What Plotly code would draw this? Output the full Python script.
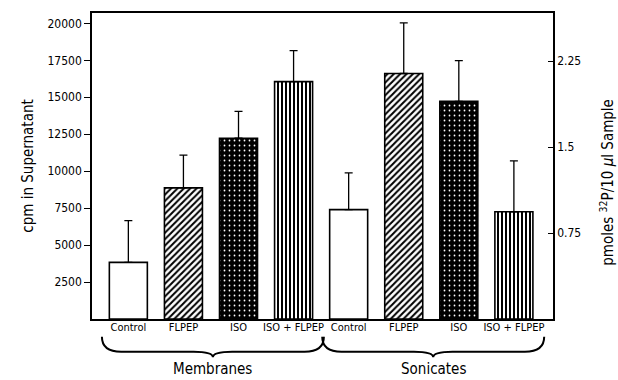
import numpy as np
import plotly.graph_objects as go

# ---- data ----
treatments = ["Control", "FLPEP", "ISO", "ISO + FLPEP"]
groups = ["Membranes", "Sonicates"]
membranes_cpm = [3830, 8870, 12230, 16060]          # cpm in supernatant
membranes_err = [2820, 2220, 1820, 2090]
sonicates_pmol = [0.954, 2.142, 1.899, 0.936]       # pmoles 32P / 10 ul sample
sonicates_err = [0.321, 0.442, 0.355, 0.443]
left_ticks = [2500, 5000, 7500, 10000, 12500, 15000, 17500, 20000]
right_ticks = [0.75, 1.5, 2.25]
right_ticktext = ["0.75", "1.5", "2.25"]

FONT = "DejaVu Sans Condensed, Liberation Sans Narrow, Arial Narrow, sans-serif"

# pattern style per treatment
styles = {
    "Control":     dict(shape="",  fg="black", bg="white", size=6, sol=0.3),
    "FLPEP":       dict(shape="/", fg="black", bg="white", size=4.5, sol=0.45),
    "ISO":         dict(shape=".", fg="white", bg="black", size=5, sol=0.1),
    "ISO + FLPEP": dict(shape="|", fg="black", bg="white", size=4, sol=0.5),
}

def pattern(names):
    return dict(
        shape=[styles[n]["shape"] for n in names],
        fgcolor=[styles[n]["fg"] for n in names],
        bgcolor=[styles[n]["bg"] for n in names],
        size=[styles[n]["size"] for n in names],
        solidity=[styles[n]["sol"] for n in names],
        fillmode="replace",
    )

n = len(treatments)
x_mem = np.arange(n)
x_son = np.arange(n) + n

fig = go.Figure()
fig.add_trace(go.Bar(
    x=x_mem, y=membranes_cpm, width=0.69, yaxis="y",
    marker=dict(color="white", line=dict(color="black", width=1.6),
                pattern=pattern(treatments)),
    error_y=dict(type="data", array=membranes_err, arrayminus=[0] * n,
                 symmetric=False, color="black", thickness=1.3, width=4),
    showlegend=False, name="Membranes",
))
fig.add_trace(go.Bar(
    x=x_son, y=sonicates_pmol, width=0.69, yaxis="y2",
    marker=dict(color="white", line=dict(color="black", width=1.6),
                pattern=pattern(treatments)),
    error_y=dict(type="data", array=sonicates_err, arrayminus=[0] * n,
                 symmetric=False, color="black", thickness=1.3, width=4),
    showlegend=False, name="Sonicates",
))

fig.update_layout(
    width=618, height=380,
    margin=dict(l=92, r=65, t=11, b=61),
    plot_bgcolor="white", paper_bgcolor="white",
    barmode="overlay",
    font=dict(family=FONT, color="black", size=12),
    xaxis=dict(
        range=[-0.66, 7.71],
        tickvals=list(x_mem) + list(x_son),
        ticktext=treatments * 2,
        ticks="", showline=True, linecolor="black", linewidth=1.5,
        mirror=True, showgrid=False, zeroline=False,
        ticklabelstandoff=-3,
        tickfont=dict(size=11, family=FONT),
    ),
    yaxis=dict(
        range=[0, 20700], tickvals=left_ticks,
        ticktext=[str(v) for v in left_ticks],
        ticks="outside", ticklen=6, tickcolor="black", tickwidth=1.2,
        showline=True, linecolor="black", linewidth=1.5,
        showgrid=False, zeroline=False,
        tickfont=dict(size=12, family=FONT),
        title=dict(text="cpm in Supernatant", font=dict(size=15, family=FONT), standoff=10),
    ),
    yaxis2=dict(
        overlaying="y", side="right",
        range=[0, 2.67], tickvals=right_ticks, ticktext=right_ticktext,
        ticks="inside", ticklen=5, tickcolor="black", tickwidth=1.2,
        showline=True, linecolor="black", linewidth=1.5,
        showgrid=False, zeroline=False,
        tickfont=dict(size=12, family=FONT),
    ),
)

# right axis title placed as rotated annotation
fig.add_annotation(x=1, y=0.445, xref="paper", yref="paper", xshift=54,
                   text="pmoles <sup>32</sup>P/10 <i>μ</i>l Sample",
                   textangle=-90, showarrow=False, xanchor="center", yanchor="middle",
                   font=dict(size=15, family=FONT))

# braces under each group
def brace_path(x0, x1, ytop, ybody, ytip):
    xm = (x0 + x1) / 2
    d = 0.35
    return (f"M {x0},{ytop} Q {x0},{ybody} {x0 + d},{ybody} "
            f"L {xm - d},{ybody} Q {xm},{ybody} {xm},{ytip} "
            f"Q {xm},{ybody} {xm + d},{ybody} "
            f"L {x1 - d},{ybody} Q {x1},{ybody} {x1},{ytop}")

for gi, g in enumerate(groups):
    xs = x_mem if gi == 0 else x_son
    x0 = xs[0] - 0.48
    x1 = xs[-1] + 0.55
    fig.add_shape(type="path", xref="x", yref="paper",
                  path=brace_path(x0, x1, -0.058, -0.107, -0.125),
                  line=dict(color="black", width=2))
    fig.add_annotation(x=(x0 + x1) / 2, y=-0.128, xref="x", yref="paper",
                       text=g, showarrow=False, yanchor="top",
                       font=dict(size=15, family=FONT))

# remove the default 8px page margin so the figure fills the 618x380 window
fig.write_html(
    "out.html",
    config={"displayModeBar": False},
    post_script="document.body.style.margin='0';document.body.style.overflow='hidden';",
)
